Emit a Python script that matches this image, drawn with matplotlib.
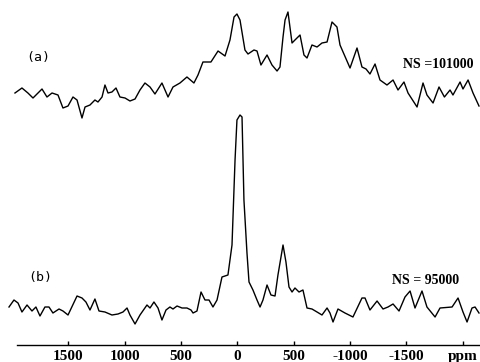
import matplotlib.pyplot as plt

# spectrum (a), NS = 101000 : chemical shift (ppm) and intensity (arb.)
ppm_a = [1974, 1912, 1859, 1814, 1734, 1690, 1645, 1592, 1548, 1503,
         1459, 1423, 1379, 1352, 1308, 1264, 1237, 1201, 1175, 1148,
         1113, 1077, 1042, 997, 953, 908, 864, 820, 775, 731,
         669, 615, 571, 509, 447, 385, 349, 305, 234, 171,
         109, 65, 29, 3, -24, -68, -95, -148, -175, -210,
         -264, -308, -353, -379, -406, -424, -450, -486, -512, -557,
         -592, -619, -663, -708, -752, -797, -841, -885, -912, -1001,
         -1063, -1107, -1143, -1178, -1223, -1267, -1329, -1383, -1427, -1480,
         -1516, -1596, -1649, -1684, -1738, -1791, -1839, -1889, -1915, -1978,
         -2004, -2049, -2093, -2146]
int_a = [7, 12, 7, 2, 11, 3, 7, 5, -8, -6,
         3, 0, -18, -7, -5, 0, -2, 3, 15, 7,
         8, 12, 3, 2, -1, 1, 10, 17, 13, 6,
         17, 3, 13, 17, 23, 17, 25, 38, 38, 49,
         44, 60, 83, 86, 80, 50, 46, 50, 49, 35,
         45, 35, 29, 33, 63, 80, 88, 57, 60, 65,
         45, 42, 55, 53, 57, 58, 78, 73, 55, 32,
         52, 33, 31, 26, 36, 20, 15, 20, 10, 18,
         7, -7, 17, 5, -3, 13, 3, 10, 5, 18,
         11, 20, 7, -6]

# spectrum (b), NS = 95000
ppm_b = [2027, 1983, 1947, 1912, 1867, 1823, 1788, 1752, 1708, 1672,
         1637, 1583, 1548, 1503, 1423, 1379, 1344, 1308, 1264, 1228,
         1175, 1113, 1059, 1015, 979, 953, 908, 864, 802, 775,
         740, 704, 669, 633, 598, 571, 535, 491, 447, 411,
         393, 358, 322, 287, 251, 216, 180, 136, 83, 47,
         20, 3, -24, -42, -59, -86, -104, -139, -175, -202,
         -228, -264, -299, -335, -361, -406, -432, -459, -486, -512,
         -548, -583, -619, -663, -708, -752, -797, -823, -850, -894,
         -956, -974, -1027, -1107, -1134, -1178, -1241, -1294, -1338, -1383,
         -1436, -1489, -1534, -1578, -1640, -1684, -1756, -1800, -1907, -1960,
         -2004, -2040, -2084, -2111, -2146]
int_b = [5, 12, 9, 0, 7, 1, 5, -4, 5, 5,
         -1, 3, 1, -3, 16, 14, 10, 2, 13, 1,
         0, -3, -2, 0, 4, -3, -12, -3, 7, 4,
         10, 4, -8, 2, 5, 3, 6, 4, 4, 2,
         -1, 1, 20, 12, 12, 5, 12, 35, 37, 67,
         152, 192, 197, 195, 112, 59, 30, 22, 12, 5,
         12, 27, 17, 16, 37, 67, 50, 25, 20, 24,
         20, 22, 4, 3, 0, -3, 4, -1, -10, 3,
         -1, -2, -5, 14, 14, 2, 11, 3, 5, 8,
         1, 15, 21, 4, 21, 5, -5, 4, 5, 14,
         0, -10, 4, 5, -1]

tick_pos = [1500, 1000, 500, 0, -500, -1000, -1500, -2000]
tick_lab = ['1500', '1000', '500', '0', '500', '-1000', '-1500', 'ppm']

off_a = 244.7
off_b = 32.7

fig = plt.figure(figsize=(4.8, 3.62), dpi=100)
ax = fig.add_axes([17/480, 17.3/362, 463/480, 344.7/362])

ax.plot(ppm_a, [v + off_a for v in int_a], color='black', lw=1.0, clip_on=False)
ax.plot(ppm_b, [v + off_b for v in int_b], color='black', lw=1.0, clip_on=False)

ax.set_xlim(1956, -2155)
ax.set_ylim(0, 344.7)

for s in ['top', 'left', 'right']:
    ax.spines[s].set_visible(False)
ax.spines['bottom'].set_linewidth(1.0)
ax.set_yticks([])
ax.set_xticks(tick_pos)
ax.set_xticklabels(tick_lab, fontfamily='Liberation Serif', fontweight='bold', fontsize=11)
ax.tick_params(axis='x', direction='in', length=3, width=1.0, pad=3.5)

fig.text(38/480, 1 - 57/362, '(a)', family='DejaVu Sans Mono', fontsize=9.5,
         ha='center', va='center')
fig.text(40/480, 1 - 277/362, '(b)', family='DejaVu Sans Mono', fontsize=9.5,
         ha='center', va='center')
fig.text(403/480, 1 - 65/362, 'NS =101000', family='Liberation Serif',
         fontweight='bold', fontsize=10, ha='left', va='center')
fig.text(392/480, 1 - 280/362, 'NS = 95000', family='Liberation Serif',
         fontweight='bold', fontsize=10, ha='left', va='center')

fig.savefig('out.png', dpi=100)
